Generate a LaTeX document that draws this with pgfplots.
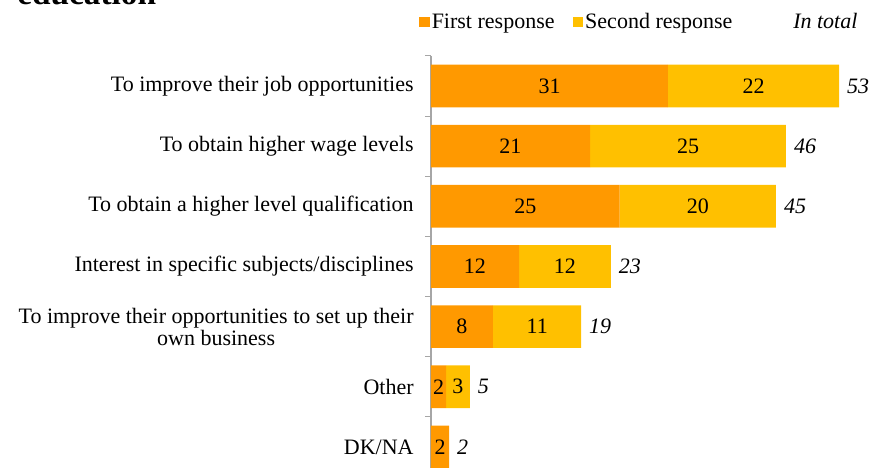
\documentclass[border=0pt]{standalone}
\usepackage{pgfplots}
\pgfplotsset{compat=1.18}
\usepackage{fontspec}
\setmainfont{Liberation Serif}
\definecolor{firstc}{HTML}{FF9900}
\definecolor{secondc}{HTML}{FFC000}
\definecolor{axgray}{HTML}{A6A6A6}
\newcommand{\lf}{\fontsize{16.5}{16.5}\selectfont}
\pgfplotsset{geom/.style={
  at={(0pt,0pt)}, anchor=south west,
  scale only axis, width=330.75pt, height=315.9pt,
  xmin=0, xmax=57.27, ymin=-0.5, ymax=6.5, y dir=reverse,
  clip=false}}
\begin{document}
\begin{tikzpicture}
\path[use as bounding box] (-323.25pt,6.8pt) rectangle (330.75pt,357.8pt);
\node[anchor=base west, inner sep=0pt, font=\bfseries\fontsize{25}{28}\selectfont] at (-310.5pt,354.1pt) {education};
\node[anchor=base west, inner sep=0pt, font=\itshape\lf] at (271.5pt,336.1pt) {In total};
\begin{axis}[
  geom,
  xbar stacked, bar width=32pt,
  axis x line=none, axis y line*=left,
  axis line style={draw=axgray, line width=0.8pt},
  ytick={0,...,6},
  yticklabels={
    {To improve their job opportunities},
    {To obtain higher wage levels},
    {To obtain a higher level qualification},
    {Interest in specific subjects/disciplines},
    {To improve their opportunities to set up their\\own business},
    {Other},
    {DK/NA}},
  major tick length=0pt,
  minor ytick={-0.5,0.5,...,6.5},
  minor tick length=4.5pt,
  tick align=outside,
  tick style={draw=axgray, line width=0.8pt},
  yticklabel style={align=center, font=\lf, xshift=-9.5pt},
  legend style={at={(-0.027,1.0805)}, anchor=west, draw=none, fill=none,
    inner sep=0pt, outer sep=0pt, legend columns=-1, font=\lf,
    nodes={inner sep=1.5pt},
    /tikz/every even column/.append style={column sep=12pt}},
]
\addplot[fill=firstc, draw=none,
  legend image code/.code={\fill[firstc] (0pt,-4pt) rectangle (8pt,4pt);}]
  coordinates {(30.75,0) (20.65,1) (24.5,2) (11.45,3) (8.05,4) (1.95,5) (2.35,6)};
\addlegendentry{First response}
\addplot[fill=secondc, draw=none,
  legend image code/.code={\fill[secondc] (0pt,-4pt) rectangle (8pt,4pt);}]
  coordinates {(22.25,0) (25.45,1) (20.3,2) (11.9,3) (11.45,4) (3.1,5) (0,6)};
\addlegendentry{Second response}
\end{axis}
\begin{axis}[geom, hide axis]
% labels at the middle of each segment
\addplot[draw=none, mark=none, point meta=explicit symbolic, nodes near coords,
  every node near coord/.append style={anchor=center, font=\lf}]
  coordinates {(15.4,0)[31] (10.3,1)[21] (12.25,2)[25] (5.7,3)[12] (4.0,4)[8] (0.98,5)[2] (1.18,6)[2]};
\addplot[draw=none, mark=none, point meta=explicit symbolic, nodes near coords,
  every node near coord/.append style={anchor=center, font=\lf}]
  coordinates {(41.9,0)[22] (33.4,1)[25] (34.65,2)[20] (17.4,3)[12] (13.8,4)[11] (3.5,5)[3]};
% totals
\addplot[draw=none, mark=none, point meta=explicit symbolic, nodes near coords,
  every node near coord/.append style={anchor=west, font=\itshape\lf, xshift=2.5pt}]
  coordinates {(53,0)[53] (46.1,1)[46] (44.8,2)[45] (23.35,3)[23] (19.5,4)[19] (5.05,5)[5] (2.35,6)[2]};
\end{axis}
\end{tikzpicture}
\end{document}
